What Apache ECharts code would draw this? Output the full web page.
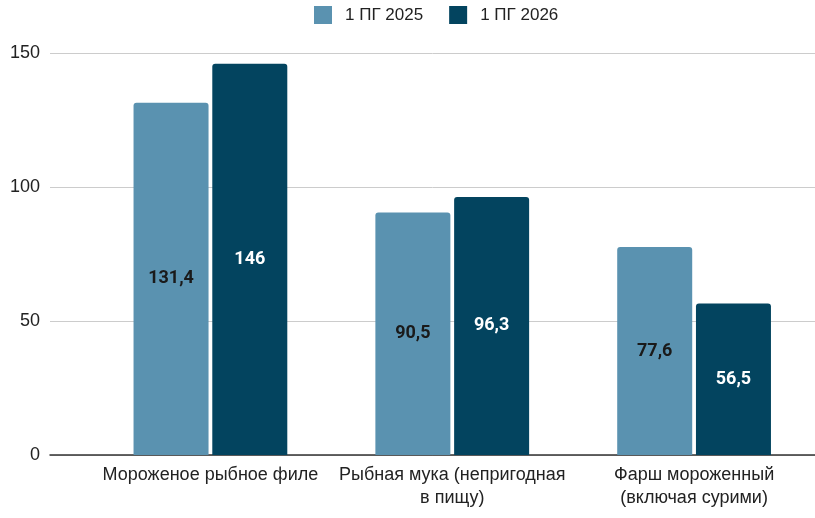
<!DOCTYPE html>
<html>
<head>
<meta charset="utf-8">
<script src="https://cdn.jsdelivr.net/npm/echarts@6/dist/echarts.min.js"></script>
<style>
  html, body { margin: 0; padding: 0; background: #fff; }
  #chart { width: 815px; height: 518px; }
</style>
</head>
<body>
<div id="chart"></div>
<script>
var categories = ['Мороженое рыбное филе', 'Рыбная мука (непригодная\nв пищу)', 'Фарш мороженный\n(включая сурими)'];
var seriesNames = ['1 ПГ 2025', '1 ПГ 2026'];
var values2025 = [131.4, 90.5, 77.6];
var values2026 = [146, 96.3, 56.5];
var yTicks = [0, 50, 100, 150];

var chartDom = document.getElementById('chart');
var myChart = echarts.init(chartDom, null, { renderer: 'canvas' });

function fmt(p) {
  return String(p.value).replace('.', ',');
}

var font = 'Liberation Sans, Arial, sans-serif';

var option = {
  backgroundColor: '#fff',
  animation: false,
  legend: {
    top: 1,
    left: 309,
    itemWidth: 18,
    itemHeight: 18,
    itemGap: 26,
    icon: 'rect',
    textStyle: { fontFamily: font, fontSize: 17, color: '#222', padding: [0, 0, 0, 8] },
    data: seriesNames
  },
  grid: [
    { left: 50, right: 0, top: 53, bottom: 63 },
    { left: 89.5, right: 0, top: 53, bottom: 63 }
  ],
  xAxis: [
    {
      gridIndex: 0,
      type: 'category',
      data: categories,
      axisLine: { lineStyle: { color: '#333', width: 1.5 } },
      axisTick: { show: false },
      axisLabel: { show: false }
    },
    {
      gridIndex: 1,
      type: 'category',
      data: categories,
      axisLine: { show: false },
      axisTick: { show: false },
      axisLabel: {
        interval: 0,
        margin: 9,
        fontFamily: font,
        fontSize: 18,
        lineHeight: 23,
        color: '#222'
      }
    }
  ],
  yAxis: [
    {
      gridIndex: 0,
      type: 'value',
      min: yTicks[0],
      max: yTicks[yTicks.length - 1],
      interval: 50,
      axisLine: { show: false },
      axisTick: { show: false },
      axisLabel: { margin: 10, fontFamily: font, fontSize: 18, color: '#222' },
      splitLine: { lineStyle: { color: '#cccccc', width: 1 } }
    },
    {
      gridIndex: 1,
      type: 'value',
      min: yTicks[0],
      max: yTicks[yTicks.length - 1],
      interval: 50,
      show: false,
      splitLine: { show: false }
    }
  ],
  series: [
    {
      name: seriesNames[0],
      type: 'bar',
      xAxisIndex: 1,
      yAxisIndex: 1,
      data: values2025,
      barWidth: 75,
      barGap: '5%',
      itemStyle: { color: '#5a92b0', borderRadius: [3, 3, 0, 0] },
      label: {
        show: true,
        position: 'inside',
        formatter: fmt,
        fontFamily: 'Roboto, sans-serif',
        fontWeight: 'bold',
        fontSize: 18,
        color: '#1a1a1a'
      }
    },
    {
      name: seriesNames[1],
      type: 'bar',
      xAxisIndex: 1,
      yAxisIndex: 1,
      data: values2026,
      barWidth: 75,
      barGap: '5%',
      itemStyle: { color: '#03445f', borderRadius: [3, 3, 0, 0] },
      label: {
        show: true,
        position: 'inside',
        formatter: fmt,
        fontFamily: 'Roboto, sans-serif',
        fontWeight: 'bold',
        fontSize: 18,
        color: '#ffffff'
      }
    }
  ]
};

option && myChart.setOption(option);
</script>
</body>
</html>
